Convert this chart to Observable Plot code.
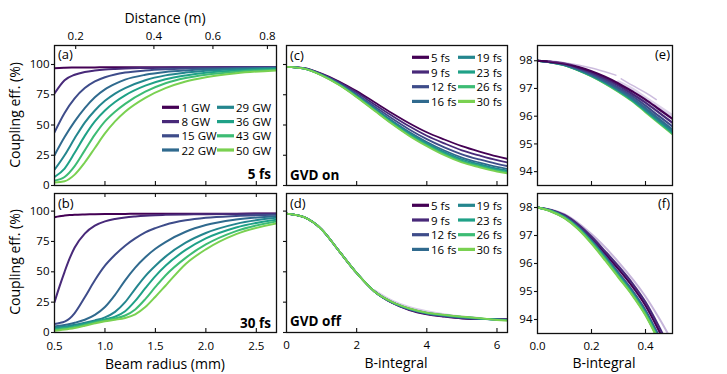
<!DOCTYPE html>
<html><head><meta charset="utf-8">
<script src="https://cdn.jsdelivr.net/npm/d3@7"></script>
<script src="https://cdn.jsdelivr.net/npm/@observablehq/plot@0.6"></script>
<style>
body{margin:0;background:#fff;}
#wrap{position:relative;width:727px;height:374px;overflow:hidden;background:#fff;}
#wrap svg{position:absolute;left:0;top:0;}
</style></head><body><div id="wrap"></div>
<script>
const W = 727, H = 374;
const FONT = '"Open Sans", sans-serif';

// ---------- series names ----------
const powers = ["1 GW","8 GW","15 GW","22 GW","29 GW","36 GW","43 GW","50 GW"];
const durations = ["5 fs","9 fs","12 fs","16 fs","19 fs","23 fs","26 fs","30 fs"];

// ---------- panel (a): 5 fs, coupling vs beam radius ----------
const radiusA = [0.5,0.6,0.7,0.8,0.9,1.0,1.1,1.2,1.4,1.6,1.8,2.0,2.3,2.7];
const couplingA = [
  [97,97.3,97.5,97.6,97.6,97.7,97.7,97.7,97.8,97.8,97.8,97.8,97.8,97.8],
  [76,87,91.5,93.8,95,95.8,96.3,96.7,97.1,97.4,97.5,97.6,97.7,97.8],
  [44,60,72,80.5,86,89.5,91.8,93.3,95,96,96.6,97,97.3,97.6],
  [25,40,53,64,73,79.5,84,87.5,91.5,93.8,95.1,96,96.7,97.3],
  [13,25,39,52,62,70,76,80.5,87,91,93.3,94.8,96,96.9],
  [7,14,27,41,53,62,69,74.5,82.5,87.8,91,93.2,95,96.3],
  [4,7,16,29,42,53,61,67.5,77.5,84.5,88.8,91.6,94,95.7],
  [2.5,3.5,9,19,31,43,53,61,72.5,80.5,86,89.5,92.8,95.1]
];
// top axis: distance (m) tick positions expressed in beam radius
const distanceLabels = ["0.2","0.4","0.6","0.8"];
const distanceAtRadius = [0.71,1.485,2.07,2.61];

// ---------- panel (b): 30 fs ----------
const radiusB = [0.5,0.55,0.6,0.65,0.7,0.8,0.9,1.0,1.1,1.2,1.3,1.4,1.5,1.6,1.8,2.0,2.3,2.7];
const couplingB = [
  [95,95.8,96.3,96.7,97,97.3,97.5,97.6,97.7,97.7,97.8,97.8,97.8,97.8,97.9,97.9,97.9,98],
  [25,38,50,61,70,81.5,88,91.5,93.5,94.8,95.6,96.2,96.6,96.9,97.3,97.5,97.7,97.8],
  [7,7.8,9,11.5,16,29,43,55,64,71.5,77.5,82.5,86,88.8,92.4,94.5,96,97],
  [5,5.5,6.2,7,8,10.5,14.5,21,31,43,53.5,62,69,74.5,83,88.5,93,95.8],
  [4,4.5,5,5.6,6.3,8,10,12.5,17,25,36,46.5,55,62.5,74,82,89.5,94.5],
  [3,3.4,3.9,4.5,5.2,7,9,10.8,13,17.5,26,36.5,46.5,55,68,77.5,86.5,93],
  [2.3,2.7,3.2,3.8,4.5,6.3,8.3,10,11.5,14,19,27.5,37.5,47,61.5,72.5,83.5,91.5],
  [1.5,1.9,2.4,3,3.7,5.5,7.5,9.3,10.5,12,15,21,29.5,38.5,56.5,68.5,81,89.8]
];

// ---------- panel (c): GVD on, coupling vs B-integral ----------
const bIntCD = [0,0.5,1,1.5,2,2.5,3,3.5,4,4.5,5,5.5,6,6.3];
const couplingC = [
  [98,97,92.5,86,78,69,60,51.5,44,38,32.5,28,24,22],
  [98,96.9,92.1,85.2,76.8,67.2,57.8,48.9,41.1,34.8,29.1,24.8,20.9,19],
  [98,96.8,91.8,84.5,75.5,65.5,55.5,46.3,38.3,31.5,25.8,21.5,17.8,16],
  [98,96.7,91.5,83.9,74.5,64.1,53.7,44.2,36,28.9,23.1,18.9,15.3,13.6],
  [98,96.6,91.3,83.6,74,63.4,52.8,43.1,34.8,27.6,21.7,17.6,14,12.4],
  [98,96.6,91.2,83.4,73.6,62.8,52.1,42.3,33.9,26.6,20.6,16.6,13,11.4],
  [98,96.5,91.1,83.2,73.3,62.4,51.5,41.6,33.2,25.8,19.8,15.8,12.3,10.7],
  [98,96.5,91,83,73,62,51,41,32.5,25,19,15,11.5,10]
];

// ---------- panel (d): GVD off ----------
const couplingD = [
  [98,95,85,67,49,34,24.5,18.5,15,13,11.5,11,11,11],
  [98,95,85,67,49,34,24.7,18.8,15.3,13.3,11.8,11.1,10.9,10.8],
  [98,95,85,67,49,34,24.8,19,15.6,13.6,12.1,11.3,10.8,10.6],
  [98,95,85,67,49,34,25,19.3,15.8,13.9,12.4,11.4,10.7,10.4],
  [98,95,85,67,49,34,25,19.5,16,14.1,12.6,11.5,10.6,10.2],
  [98,95,85,67,49,34,25.1,19.6,16.1,14.3,12.8,11.6,10.5,10.1],
  [98,95,85,67,49,34,25.2,19.7,16.2,14.4,12.9,11.7,10.4,10],
  [98,95,85,67,49,34,25.3,19.8,16.3,14.5,13,11.8,10.3,9.8]
];
const bIntDFaint = [2.5,3,3.5,4,4.5,5,5.5];
const couplingDFaint = [35,26.5,21,17.5,15,13.2,12];

// ---------- panel (e): zoom, GVD on ----------
const bIntEF = [0,0.05,0.1,0.15,0.2,0.25,0.3,0.35,0.4,0.45,0.5];
const couplingE = [
  [98,97.96,97.9,97.78,97.62,97.42,97.18,96.9,96.6,96.25,95.9],
  [98,97.96,97.89,97.75,97.58,97.36,97.11,96.81,96.49,96.13,95.76],
  [98,97.95,97.87,97.72,97.53,97.3,97.03,96.73,96.38,96.0,95.63],
  [98,97.95,97.86,97.7,97.49,97.25,96.97,96.66,96.29,95.9,95.52],
  [98,97.94,97.85,97.68,97.48,97.23,96.94,96.62,96.24,95.85,95.46],
  [98,97.94,97.85,97.67,97.46,97.21,96.92,96.59,96.2,95.81,95.42],
  [98,97.94,97.84,97.67,97.45,97.19,96.9,96.57,96.18,95.78,95.38],
  [98,97.94,97.84,97.66,97.44,97.18,96.88,96.55,96.15,95.75,95.35]
];
const bIntEFaint1 = [0.04,0.1,0.15,0.2,0.25,0.29];
const couplingEFaint1 = [98.0,97.93,97.85,97.74,97.6,97.48];
const bIntEFaint2 = [0.31,0.35,0.4,0.44];
const couplingEFaint2 = [97.35,97.12,96.85,96.6];
const bIntEFaint3 = [0.3,0.35,0.4,0.45,0.5];
const couplingEFaint3 = [97.2,96.95,96.62,96.3,95.98];

// ---------- panel (f): zoom, GVD off ----------
const couplingF = [
  [98,97.9,97.7,97.36,96.9,96.36,95.8,95.2,94.5,93.6,92.6],
  [98,97.91,97.73,97.4,96.96,96.44,95.9,95.31,94.62,93.74,92.76],
  [98,97.89,97.67,97.31,96.83,96.27,95.67,95.05,94.33,93.4,92.42],
  [98,97.88,97.66,97.29,96.8,96.23,95.62,95.0,94.27,93.34,92.36],
  [98,97.88,97.65,97.28,96.78,96.21,95.59,94.97,94.24,93.31,92.33],
  [98,97.87,97.64,97.27,96.76,96.18,95.56,94.94,94.21,93.28,92.3],
  [98,97.87,97.63,97.25,96.74,96.15,95.53,94.91,94.18,93.25,92.27],
  [98,97.86,97.62,97.23,96.71,96.12,95.5,94.88,94.15,93.22,92.24]
];
const bIntFFaint = [0,0.1,0.2,0.3,0.4,0.45,0.5];
const couplingFFaint = [98,97.76,97.05,96.05,94.82,94.05,93.2];

// ---------- tick values ----------
const yTicksPct = [0,25,50,75,100];
const yTicksZoom = [94,95,96,97,98];
const radiusTicks = [0.5,1,1.5,2,2.5];
const bTicks = [0,2,4,6];
const bZoomTicks = [0,0.2,0.4];

// ---------- styling ----------
const colors = d3.range(8).map(i => d3.interpolateViridis(i * 0.8 / 7));
const faintColor = "#8e6bb5";
const AX = "#111";
const TICKFONT = 11.5;

function longTable(xs, series, names) {
  return series.flatMap((vals, i) => vals.map((v, j) => ({x: xs[j], y: v, s: names[i]})));
}
function pairs(xs, ys) { return xs.map((x, i) => ({x, y: ys[i]})); }

function panel({x0, x1, y0, y1, xDomain, yDomain, names, marks}) {
  return Plot.plot({
    width: W, height: H,
    marginLeft: x0, marginRight: W - x1, marginTop: y0, marginBottom: H - y1,
    style: {background: "transparent", fontFamily: FONT, fontSize: TICKFONT + "px", color: "#000", overflow: "visible"},
    x: {domain: xDomain, axis: null},
    y: {domain: yDomain, axis: null},
    color: {domain: names, range: colors},
    marks
  });
}
const inTickBottom = (vals, h) => Plot.tickX(vals, {insetTop: h - 4, stroke: AX, strokeWidth: 1.1});
const inTickTop = (vals, h) => Plot.tickX(vals, {insetBottom: h - 4, stroke: AX, strokeWidth: 1.1});
const frame = () => Plot.frame({stroke: AX, strokeWidth: 1.3});
const yAxis = (vals, fmt) => Plot.axisY(vals, {tickSize: 3, tickPadding: 2, stroke: AX, strokeWidth: 1.1, tickFormat: fmt, label: null, fontSize: TICKFONT, fill: "#000"});

const wrap = document.getElementById("wrap");

// (a)
wrap.appendChild(panel({
  x0: 54, x1: 276, y0: 45, y1: 185, xDomain: [0.5, 2.7], yDomain: [0, 115.7], names: powers,
  marks: [
    Plot.line(longTable(radiusA, couplingA, powers), {x: "x", y: "y", z: "s", stroke: "s", strokeWidth: 2, curve: "monotone-x", clip: true}),
    yAxis(yTicksPct, d => d),
    inTickBottom(radiusTicks.slice(1), 140),
    inTickTop(distanceAtRadius, 140),
    Plot.axisX(distanceAtRadius, {anchor: "top", tickSize: 0, tickPadding: 6, tickFormat: d => distanceLabels[distanceAtRadius.indexOf(d)], label: null, fontSize: TICKFONT, fill: "#000"}),
    frame()
  ]
}));
// (b)
wrap.appendChild(panel({
  x0: 54, x1: 276, y0: 193, y1: 332, xDomain: [0.5, 2.7], yDomain: [0, 114.5], names: powers,
  marks: [
    Plot.line(longTable(radiusB, couplingB, powers), {x: "x", y: "y", z: "s", stroke: "s", strokeWidth: 2, curve: "monotone-x", clip: true}),
    yAxis(yTicksPct, d => d),
    inTickBottom(radiusTicks.slice(1), 139),
    inTickTop(radiusTicks.slice(1), 139),
    Plot.axisX(radiusTicks, {anchor: "bottom", tickSize: 0, tickPadding: 9, tickFormat: d => d.toFixed(1), label: null, fontSize: TICKFONT, fill: "#000"}),
    frame()
  ]
}));
// (c)
wrap.appendChild(panel({
  x0: 286, x1: 507, y0: 45, y1: 185, xDomain: [0, 6.3], yDomain: [0, 115.7], names: durations,
  marks: [
    Plot.line(longTable(bIntCD, couplingC, durations), {x: "x", y: "y", z: "s", stroke: "s", strokeWidth: 1.8, curve: "monotone-x", clip: true}),
    yAxis(yTicksPct, () => ""),
    inTickBottom(bTicks.slice(1), 140),
    frame()
  ]
}));
// (d)
wrap.appendChild(panel({
  x0: 286, x1: 507, y0: 193, y1: 332, xDomain: [0, 6.3], yDomain: [0, 114.5], names: durations,
  marks: [
    Plot.line(pairs(bIntDFaint, couplingDFaint), {x: "x", y: "y", stroke: faintColor, strokeOpacity: 0.35, strokeWidth: 2, curve: "monotone-x"}),
    Plot.line(longTable(bIntCD, couplingD, durations), {x: "x", y: "y", z: "s", stroke: "s", strokeWidth: 1.8, curve: "monotone-x", clip: true}),
    yAxis(yTicksPct, () => ""),
    inTickBottom(bTicks.slice(1), 139),
    Plot.axisX(bTicks, {anchor: "bottom", tickSize: 0, tickPadding: 8, tickFormat: d => d, label: null, fontSize: TICKFONT, fill: "#000"}),
    frame()
  ]
}));
// (e)
wrap.appendChild(panel({
  x0: 537, x1: 672, y0: 45, y1: 185, xDomain: [0, 0.5], yDomain: [93.5, 98.55], names: durations,
  marks: [
    Plot.line(pairs(bIntEFaint3, couplingEFaint3), {x: "x", y: "y", stroke: faintColor, strokeOpacity: 0.3, strokeWidth: 5, curve: "monotone-x", clip: true}),
    Plot.line(longTable(bIntEF, couplingE, durations).reverse(), {x: "x", y: "y", z: "s", stroke: "s", strokeWidth: 2.2, curve: "monotone-x", clip: true}),
    Plot.line(pairs(bIntEFaint1, couplingEFaint1), {x: "x", y: "y", stroke: faintColor, strokeOpacity: 0.45, strokeWidth: 1.5, curve: "monotone-x"}),
    Plot.line(pairs(bIntEFaint2, couplingEFaint2), {x: "x", y: "y", stroke: faintColor, strokeOpacity: 0.45, strokeWidth: 1.5, curve: "monotone-x"}),
    yAxis(yTicksZoom, d => d),
    inTickBottom([0.2, 0.4], 140),
    frame()
  ]
}));
// (f)
wrap.appendChild(panel({
  x0: 537, x1: 672, y0: 193, y1: 333, xDomain: [0, 0.5], yDomain: [93.5, 98.5], names: durations,
  marks: [
    Plot.line(pairs(bIntFFaint, couplingFFaint), {x: "x", y: "y", stroke: faintColor, strokeOpacity: 0.5, strokeWidth: 2, curve: "monotone-x", clip: true}),
    Plot.line(longTable(bIntEF, couplingF, durations), {x: "x", y: "y", z: "s", stroke: "s", strokeWidth: 2.2, curve: "monotone-x", clip: true}),
    yAxis(yTicksZoom, d => d),
    inTickBottom([0.2, 0.4], 140),
    Plot.axisX(bZoomTicks, {anchor: "bottom", tickSize: 0, tickPadding: 8, tickFormat: d => d.toFixed(1), label: null, fontSize: TICKFONT, fill: "#000"}),
    frame()
  ]
}));

// ---------- annotations and legends (overlay) ----------
const ov = d3.select(wrap).append("svg").attr("width", W).attr("height", H).style("font-family", FONT);
function txt(x, y, s, {size = 13, anchor = "start", weight = 400, rotate = 0} = {}) {
  const t = ov.append("text").attr("x", x).attr("y", y).attr("text-anchor", anchor)
    .attr("dominant-baseline", "central").attr("font-size", size).attr("font-weight", weight)
    .attr("fill", "#000").text(s);
  if (rotate) t.attr("transform", `rotate(${rotate},${x},${y})`);
  return t;
}
txt(165, 17, "Distance (m)", {anchor: "middle", size: 14});
txt(14, 115, "Coupling eff. (%)", {anchor: "middle", size: 14, rotate: -90});
txt(14, 262, "Coupling eff. (%)", {anchor: "middle", size: 14, rotate: -90});
txt(165, 363, "Beam radius (mm)", {anchor: "middle", size: 14});
txt(396, 362, "B-integral", {anchor: "middle", size: 14});
txt(604, 362, "B-integral", {anchor: "middle", size: 14});
txt(58, 54, "(a)", {size: 13});
txt(58, 202.5, "(b)", {size: 13});
txt(290, 55, "(c)", {size: 13});
txt(290, 202.5, "(d)", {size: 13});
txt(670, 54, "(e)", {size: 13, anchor: "end"});
txt(670, 203, "(f)", {size: 13, anchor: "end"});
txt(271, 174, "5 fs", {size: 13.5, anchor: "end", weight: 700});
txt(271, 322.5, "30 fs", {size: 13.5, anchor: "end", weight: 700});
txt(290, 174.5, "GVD on", {size: 13.5, weight: 700});
txt(290, 321, "GVD off", {size: 13.5, weight: 700});

function legend(names, cols, rows) {
  names.forEach((n, i) => {
    const c = Math.floor(i / 4), r = i % 4;
    const [sx0, sx1, tx] = cols[c];
    ov.append("line").attr("x1", sx0).attr("x2", sx1).attr("y1", rows[r]).attr("y2", rows[r])
      .attr("stroke", colors[i]).attr("stroke-width", 3.2);
    txt(tx, rows[r], n, {size: 11.5});
  });
}
legend(powers, [[162, 179, 181.5], [217, 234, 236]], [107.3, 121.6, 135.8, 150]);
legend(durations, [[412, 429, 431], [458, 475, 476.5]], [57.3, 72, 86.7, 101.4]);
legend(durations, [[412, 429, 431], [458, 475, 476.5]], [205.3, 220, 234.7, 249.4]);
</script></body></html>
